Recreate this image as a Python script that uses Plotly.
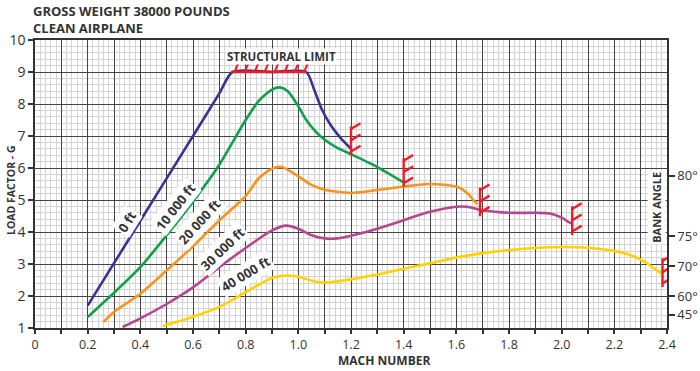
import math
import plotly.graph_objects as go

# ---------------- data ----------------
mach_0k = [0.2, 0.4, 0.6, 0.7, 0.75, 0.9, 1.03, 1.06, 1.09, 1.122, 1.16, 1.2]
g_0k = [1.7, 4.35, 7.0, 8.33, 9.0, 9.0, 9.0, 8.45, 7.82, 7.35, 6.94, 6.6]

mach_10k = [0.2, 0.3, 0.4, 0.5, 0.6, 0.7, 0.75, 0.8, 0.85, 0.9, 0.93, 0.96, 1.0, 1.03,
            1.066, 1.1, 1.15, 1.2, 1.3, 1.4]
g_10k = [1.34, 2.1, 2.9, 3.9, 4.95, 6.1, 6.8, 7.5, 8.1, 8.45, 8.52, 8.4, 7.93, 7.5,
         7.14, 6.88, 6.62, 6.43, 6.03, 5.55]

mach_20k = [0.26, 0.3, 0.4, 0.5, 0.6, 0.7, 0.8, 0.85, 0.9, 0.937, 1.0, 1.05, 1.1, 1.2,
            1.3, 1.4, 1.5, 1.6, 1.64, 1.67, 1.68]
g_20k = [1.19, 1.5, 2.07, 2.8, 3.55, 4.36, 5.12, 5.68, 5.98, 6.03, 5.74, 5.47, 5.32, 5.22,
         5.31, 5.42, 5.5, 5.42, 5.23, 4.95, 4.87]

mach_30k = [0.333, 0.4, 0.5, 0.6, 0.7, 0.8, 0.9, 0.955, 1.0, 1.05, 1.1, 1.15, 1.2, 1.3,
            1.4, 1.5, 1.6, 1.64, 1.7, 1.8, 1.9, 1.955, 2.0, 2.025, 2.04]
g_30k = [1.03, 1.3, 1.75, 2.27, 2.9, 3.5, 4.05, 4.2, 4.1, 3.9, 3.8, 3.8, 3.88, 4.1,
         4.37, 4.63, 4.79, 4.79, 4.68, 4.6, 4.6, 4.58, 4.45, 4.32, 4.26]

mach_40k = [0.485, 0.6, 0.7, 0.8, 0.9, 0.955, 1.0, 1.055, 1.1, 1.2, 1.3, 1.4, 1.5, 1.6,
            1.7, 1.8, 1.9, 2.0, 2.1, 2.2, 2.27, 2.32, 2.36, 2.38]
g_40k = [1.06, 1.35, 1.66, 2.12, 2.56, 2.64, 2.6, 2.47, 2.42, 2.52, 2.67, 2.85, 3.02, 3.2,
         3.34, 3.44, 3.5, 3.53, 3.51, 3.41, 3.25, 3.04, 2.81, 2.7]

curve_names = ["0 ft", "10 000 ft", "20 000 ft", "30 000 ft", "40 000 ft"]
curve_colors = ["#3b3391", "#10a04a", "#f7941d", "#b4478f", "#ffd200"]

# labels along curves: mach, G, angle
label_mach = [0.348, 0.532, 0.623, 0.711, 0.798]
label_g = [4.32, 4.79, 4.32, 3.48, 2.70]
label_angle = [-58, -52, -48, -44, -31]

# structural limit
limit_mach_range = [0.745, 1.03]
limit_g = 9.0
limit_hatch_mach = [0.762, 0.800, 0.838, 0.876, 0.914, 0.952, 0.990, 1.026]

# end-of-curve limit markers (mach, bottom G)
end_mach = [1.2, 1.4, 1.69, 2.04, 2.383]
end_g_bottom = [6.40, 5.41, 4.49, 3.90, 2.28]

x_tick_vals = [i / 10 for i in range(0, 25)]
x_tick_text = ["0", "", "0.2", "", "0.4", "", "0.6", "", "0.8", "", "1.0", "", "1.2", "",
               "1.4", "", "1.6", "", "1.8", "", "2.0", "", "2.2", "", "2.4"]
y_tick_vals = [1, 2, 3, 4, 5, 6, 7, 8, 9, 10]
bank_angles = [45, 60, 70, 75, 80]
title_lines = ["GROSS WEIGHT 38000 POUNDS", "CLEAN AIRPLANE"]

# ---------------- figure ----------------
FONT = "Open Sans"
TXT = "#333333"
RED = "#ee1c25"
W, H = 700, 371
L, R, T, B = 35, 33, 40, 43
PW, PH = W - L - R, H - T - B


def px_ann(xp, yp, text, size, angle=0, xanchor="center", yanchor="middle"):
    return dict(x=(xp - L) / PW, y=(H - B - yp) / PH, xref="paper", yref="paper",
                text=text, showarrow=False, textangle=angle,
                xanchor=xanchor, yanchor=yanchor, align="left",
                font=dict(family=FONT, size=size, color=TXT))


fig = go.Figure()
series = [(mach_0k, g_0k), (mach_10k, g_10k), (mach_20k, g_20k), (mach_30k, g_30k),
          (mach_40k, g_40k)]
for (mx, gy), name, col in zip(series, curve_names, curve_colors):
    fig.add_trace(go.Scatter(x=mx, y=gy, mode="lines", name=name,
                             line=dict(color=col, width=2.6, shape="spline", smoothing=0.7),
                             showlegend=False, hoverinfo="skip"))

# structural limit line + hatches
fig.add_trace(go.Scatter(x=limit_mach_range, y=[limit_g, limit_g], mode="lines",
                         line=dict(color=RED, width=2.6), showlegend=False, hoverinfo="skip"))
hx, hy = [], []
for m in limit_hatch_mach:
    hx += [m - 0.004, m + 0.012, None]
    hy += [limit_g, limit_g + 0.32, None]
fig.add_trace(go.Scatter(x=hx, y=hy, mode="lines", line=dict(color=RED, width=2),
                         showlegend=False, hoverinfo="skip"))

# end markers
ex, ey = [], []
for m, gb in zip(end_mach, end_g_bottom):
    ex += [m, m, None]
    ey += [gb, gb + 0.9, None]
    for frac in (0.93, 0.54, 0.15):
        h = gb + 0.9 * frac
        ex += [m, m + 0.036, None]
        ey += [h - 0.02, h + 0.16, None]
fig.add_trace(go.Scatter(x=ex, y=ey, mode="lines", line=dict(color=RED, width=2.4),
                         showlegend=False, hoverinfo="skip"))

# right axis dummy trace
fig.add_trace(go.Scatter(x=[0], y=[1], yaxis="y2", mode="markers", marker=dict(opacity=0),
                         showlegend=False, hoverinfo="skip"))

annotations = []
for name, m, g, a in zip(curve_names, label_mach, label_g, label_angle):
    annotations.append(dict(x=m, y=g, xref="x", yref="y", text=f"<b>{name}</b>",
                            showarrow=False, textangle=a, bgcolor="white",
                            font=dict(family=FONT, size=13, color=TXT), borderpad=1))
annotations.append(dict(x=0.937, y=9.5, xref="x", yref="y", text="<b>STRUCTURAL LIMIT</b>",
                        showarrow=False, bgcolor="white",
                        font=dict(family=FONT, size=11.5, color=TXT), borderpad=0))
annotations.append(dict(x=2.36, y=4.77, xref="x", yref="y", text="<b>BANK ANGLE</b>",
                        showarrow=False, textangle=-90, bgcolor="white",
                        font=dict(family=FONT, size=11, color=TXT), borderpad=1))
annotations.append(px_ann(384, 371, "<b>MACH NUMBER</b>", 12, yanchor="bottom"))
annotations.append(px_ann(11, 190, "<b>LOAD FACTOR - G</b>", 10.5, angle=-90))
annotations.append(px_ann(31, 0, "<br>".join(f"<b>{t}</b>" for t in title_lines), 13,
                          xanchor="left", yanchor="top"))

bank_pos = [1 / math.cos(math.radians(a)) for a in bank_angles]

fig.update_layout(
    template="none",
    width=W, height=H,
    margin=dict(l=L, r=R, t=T, b=B, autoexpand=False),
    plot_bgcolor="white", paper_bgcolor="white",
    font=dict(family=FONT, color=TXT),
    xaxis=dict(range=[0, 2.4], tickmode="array", tickvals=x_tick_vals, ticktext=x_tick_text,
               ticks="outside", ticklen=4, tickwidth=1.5, tickcolor="#333", automargin=False,
               showgrid=True, gridcolor="#444", gridwidth=1.4,
               showline=True, linecolor="#333", linewidth=1.5, mirror=True,
               tickfont=dict(family=FONT, size=12.5, color=TXT), zeroline=False,
               minor=dict(tickmode="linear", tick0=0, dtick=0.02, showgrid=True,
                          gridcolor="#d4d4d4", gridwidth=0.6, ticks="")),
    yaxis=dict(range=[1, 10], tickmode="array", tickvals=y_tick_vals, automargin=False,
               ticks="outside", ticklen=5, tickwidth=1.5, tickcolor="#333",
               showgrid=True, gridcolor="#444", gridwidth=1.4,
               showline=True, linecolor="#333", linewidth=1.5, mirror=True,
               tickfont=dict(family=FONT, size=14, color=TXT), zeroline=False,
               minor=dict(tickmode="linear", tick0=0, dtick=0.2, showgrid=True,
                          gridcolor="#d4d4d4", gridwidth=0.6, ticks="")),
    yaxis2=dict(range=[1, 10], overlaying="y", side="right", tickmode="array",
                tickvals=bank_pos, ticktext=[f"{a}°" for a in bank_angles], automargin=False,
                ticks="outside", ticklen=6, tickwidth=1.5, tickcolor="#333",
                showgrid=False, zeroline=False, showline=True, linecolor="#333",
                linewidth=1.5, tickfont=dict(family=FONT, size=13, color=TXT)),
    annotations=annotations,
)

fig.write_html("out.html", config={"displayModeBar": False},
               post_script="document.body.style.margin='0';document.body.style.overflow='hidden';")
